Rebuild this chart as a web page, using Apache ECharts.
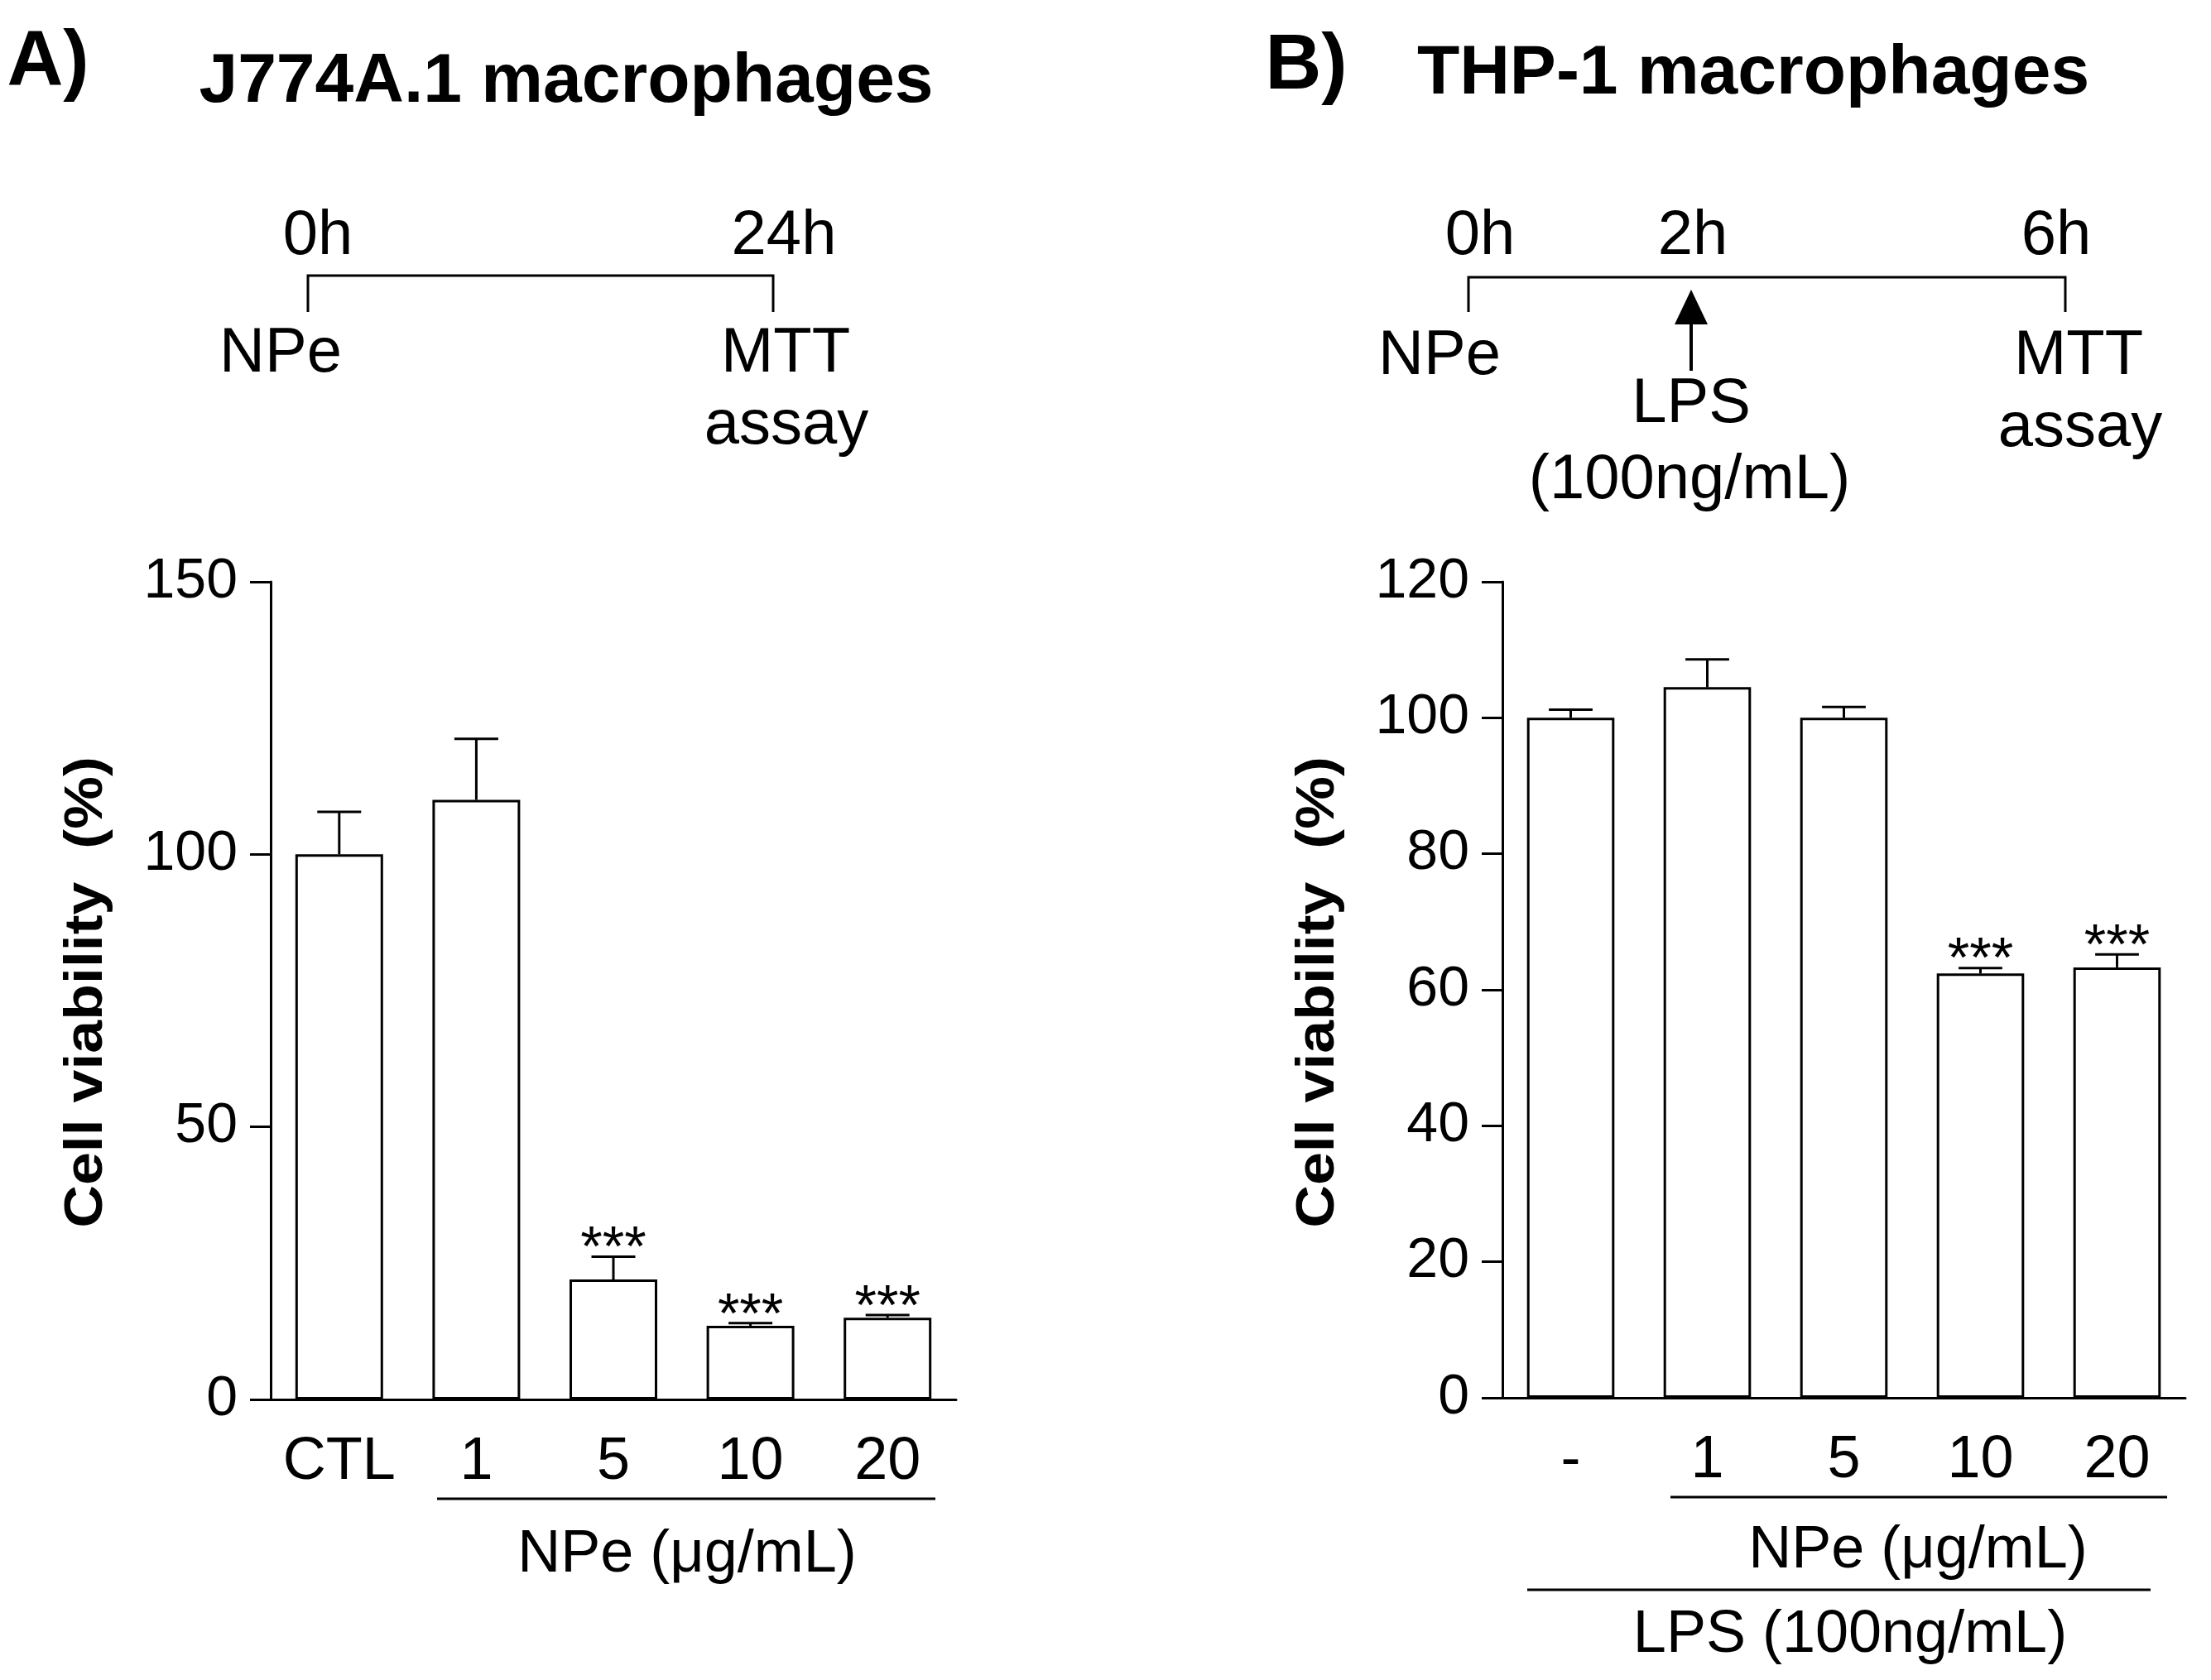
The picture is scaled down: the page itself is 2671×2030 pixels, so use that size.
<!DOCTYPE html>
<html>
<head>
<meta charset="utf-8">
<script src="https://cdn.jsdelivr.net/npm/echarts@6/dist/echarts.min.js"></script>
<style>
  html, body { margin: 0; padding: 0; background: #fff; }
  #chart { width: 2671px; height: 2030px; }
</style>
</head>
<body>
<div id="chart"></div>
<script>
// panel A - J774A.1
const catsA = ['CTL', '1', '5', '10', '20']
const meanA = [100, 110, 22, 13.5, 15]
const semA = [7.8, 11.2, 4.2, 0.5, 0.5]
const sigA = ['', '', '***', '***', '***']
const ticksA = [0, 50, 100, 150]

// panel B - THP-1
const catsB = ['-', '1', '5', '10', '20']
const meanB = [100, 104.5, 100, 62.4, 63.3]
const semB = [1.2, 4.1, 1.6, 0.8, 1.9]
const sigB = ['', '', '', '***', '***']
const ticksB = [0, 20, 40, 60, 80, 100, 120]

const FONT = '"Liberation Sans", Arial, Helvetica, sans-serif'

function txt (x, y, s, size, bold) {
  return {
    type: 'text', x: x, y: y, silent: true,
    style: { text: s, fontSize: size, fontWeight: bold ? 'bold' : 'normal', fontFamily: FONT, fill: '#000', align: 'center', verticalAlign: 'middle' }
  }
}
function ln (x1, y1, x2, y2, w) {
  return { type: 'line', silent: true, shape: { x1: x1, y1: y1, x2: x2, y2: y2 }, style: { stroke: '#000', lineWidth: w || 3 } }
}
function yName (x, y) {
  let t = txt(x, y, 'Cell viability  (%)', 64, true)
  t.rotation = Math.PI / 2
  t.scaleX = 1.12
  return t
}

function errRender (sig) {
  return function (params, api) {
    let i = api.value(0)
    let m = api.value(1)
    let e = api.value(2)
    let base = api.coord([i, m])
    let top = api.coord([i, m + e])
    let half = api.size([1, 0])[0] * 0.16
    let children = [
      { type: 'line', shape: { x1: base[0], y1: base[1], x2: top[0], y2: top[1] }, style: { stroke: '#000', lineWidth: 3 } },
      { type: 'line', shape: { x1: top[0] - half, y1: top[1], x2: top[0] + half, y2: top[1] }, style: { stroke: '#000', lineWidth: 3 } }
    ]
    if (sig[params.dataIndex]) {
      children.push({
        type: 'text', x: top[0], y: top[1] - 8,
        style: { text: sig[params.dataIndex], fontSize: 68, fontFamily: FONT, fill: '#000', align: 'center', verticalAlign: 'middle' }
      })
    }
    return { type: 'group', children: children }
  }
}

function xAxisOf (cats, gi) {
  return {
    type: 'category', gridIndex: gi, data: cats,
    axisLine: { lineStyle: { color: '#000', width: 3 } },
    axisTick: { show: false },
    axisLabel: { interval: 0, margin: 40, fontSize: 72, color: '#000', fontFamily: FONT },
    splitLine: { show: false }
  }
}
function yAxisOf (ticks, gi) {
  return {
    type: 'value', gridIndex: gi,
    min: ticks[0], max: ticks[ticks.length - 1], interval: ticks[1] - ticks[0],
    axisLine: { show: true, lineStyle: { color: '#000', width: 3 } },
    axisTick: { show: true, length: 25, lineStyle: { color: '#000', width: 3 } },
    axisLabel: { margin: 40, fontSize: 68, color: '#000', fontFamily: FONT },
    splitLine: { show: false }
  }
}
function barOf (vals, gi) {
  return {
    type: 'bar', xAxisIndex: gi, yAxisIndex: gi, data: vals, barWidth: '64%',
    itemStyle: { color: '#fff', borderColor: '#000', borderWidth: 3 },
    silent: true
  }
}
function errOf (vals, sems, sig, gi) {
  return {
    type: 'custom', xAxisIndex: gi, yAxisIndex: gi, z: 3, silent: true,
    data: vals.map((v, i) => [i, v, sems[i]]),
    renderItem: errRender(sig)
  }
}

let myChart = echarts.init(document.getElementById('chart'), null, { renderer: 'canvas' })
myChart.setOption({
  animation: false,
  backgroundColor: '#fff',
  grid: [
    { left: 327, top: 703, width: 828, height: 988, outerBoundsMode: 'none', containLabel: false },
    { left: 1815, top: 703, width: 825, height: 986, outerBoundsMode: 'none', containLabel: false }
  ],
  xAxis: [xAxisOf(catsA, 0), xAxisOf(catsB, 1)],
  yAxis: [yAxisOf(ticksA, 0), yAxisOf(ticksB, 1)],
  series: [
    barOf(meanA, 0),
    errOf(meanA, semA, sigA, 0),
    barOf(meanB, 1),
    errOf(meanB, semB, sigB, 1)
  ],
  graphic: [
    // panel A header
    txt(58, 77, 'A)', 94, true),
    txt(684, 100, 'J774A.1 macrophages', 84, true),
    txt(384, 286, '0h', 76),
    txt(947, 286, '24h', 76),
    { type: 'polyline', silent: true, shape: { points: [[372, 377], [372, 333], [934, 333], [934, 377]] }, style: { stroke: '#000', lineWidth: 3, fill: null } },
    txt(339, 428, 'NPe', 76),
    txt(949, 428, 'MTT', 76),
    txt(950, 515, 'assay', 76),
    // panel B header
    txt(1578, 81, 'B)', 94, true),
    txt(2118, 90, 'THP-1 macrophages', 84, true),
    txt(1788, 286, '0h', 76),
    txt(2045, 286, '2h', 76),
    txt(2484, 286, '6h', 76),
    { type: 'polyline', silent: true, shape: { points: [[1774, 377], [1774, 335], [2495, 335], [2495, 377]] }, style: { stroke: '#000', lineWidth: 3, fill: null } },
    ln(2043, 448, 2043, 388, 4),
    { type: 'polygon', silent: true, shape: { points: [[2043, 350], [2023, 392], [2063, 392]] }, style: { fill: '#000' } },
    txt(1739, 431, 'NPe', 76),
    txt(2043, 489, 'LPS', 76),
    txt(2041, 581, '(100ng/mL)', 76),
    txt(2511, 431, 'MTT', 76),
    txt(2513, 518, 'assay', 76),
    // axis names
    yName(105, 1199),
    yName(1593, 1199),
    // panel A group labels
    ln(528, 1811, 1130, 1811, 3),
    txt(830, 1879, 'NPe (\u03bcg/mL)', 72),
    // panel B group labels
    ln(2018, 1809, 2618, 1809, 3),
    txt(2317, 1874, 'NPe (\u03bcg/mL)', 72),
    ln(1845, 1921, 2598, 1921, 3),
    txt(2235, 1976, 'LPS (100ng/mL)', 72)
  ]
})
</script>
</body>
</html>
